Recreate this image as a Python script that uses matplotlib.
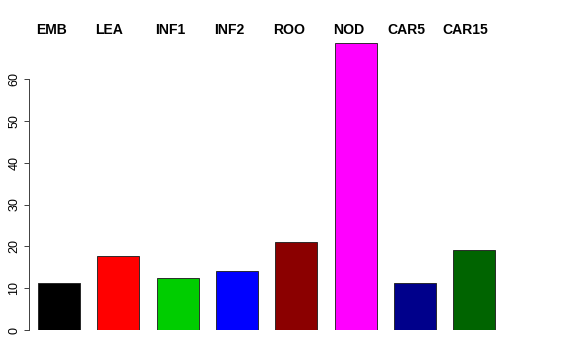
import matplotlib
matplotlib.use("Agg")
import matplotlib.pyplot as plt

categories = ["EMB", "LEA", "INF1", "INF2", "ROO", "NOD", "CAR5", "CAR15"]
values = [11.2, 17.7, 12.5, 14.1, 21.0, 68.6, 11.2, 19.2]
colors = ["#000000", "#FF0000", "#00CD00", "#0000FF", "#8B0000", "#FF00FF", "#00008B", "#006400"]
yticks = [0, 10, 20, 30, 40, 50, 60]

plt.rcParams["font.family"] = ["Liberation Sans", "DejaVu Sans"]

W, H = 576, 360
fig = plt.figure(figsize=(W / 72, H / 72), dpi=72)
ax = fig.add_axes([29 / W, 30 / H, (556 - 29) / W, 300 / H])

x = list(range(len(categories)))
ax.bar(x, values, width=0.708, color=colors, edgecolor="#222222", linewidth=0.9)

ax.set_xlim(-0.506, 8.38)
ax.set_ylim(0, 300 / 4.183)

for s in ["top", "right", "bottom"]:
    ax.spines[s].set_visible(False)
ax.spines["left"].set_bounds(0, 60)
ax.spines["left"].set_color("#444444")
ax.spines["left"].set_linewidth(1.0)
ax.set_xticks([])
ax.set_yticks(yticks)
ax.set_yticklabels([str(t) for t in yticks], rotation=90, va="center", fontsize=12.5)
ax.tick_params(axis="y", length=5.5, width=1.0, color="#444444", pad=3)

label_shift = [0, 0, 0, 0, 0, 0, -0.08, -0.15]
for i, (c, sh) in enumerate(zip(categories, label_shift)):
    ax.text(i - 0.354 - 0.03 + sh, 1.0, c, transform=ax.get_xaxis_transform(),
            ha="left", va="center", fontsize=14, fontweight="bold")

fig.savefig("out.png", dpi=72)
